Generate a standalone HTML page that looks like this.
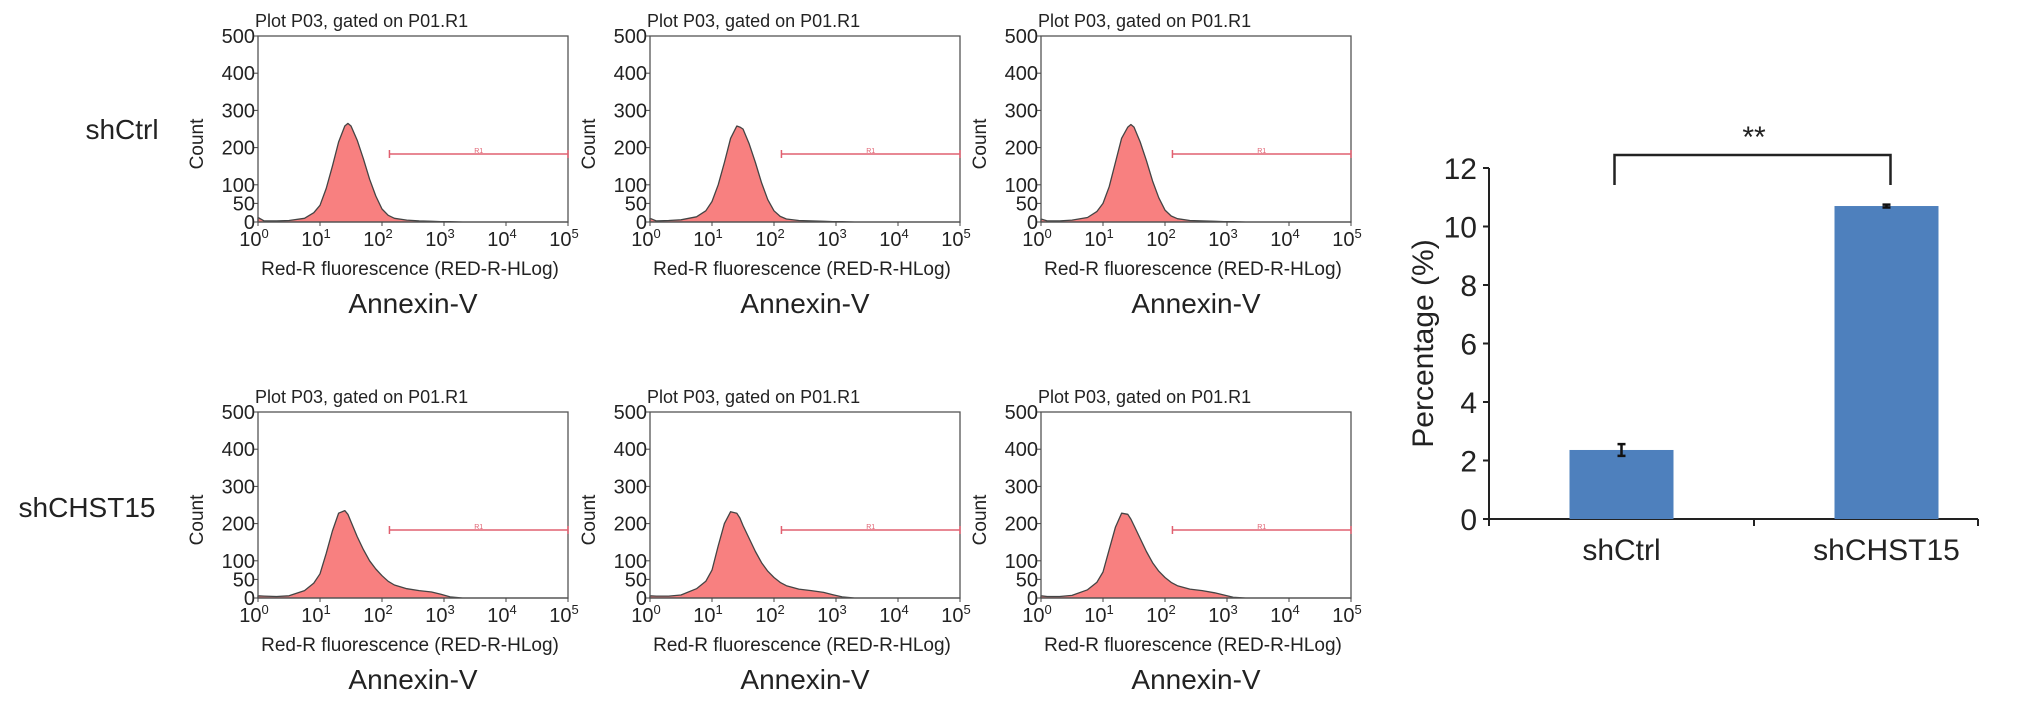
<!DOCTYPE html>
<html><head><meta charset="utf-8"><style>
body{margin:0;background:#fff;}
svg text{font-family:"Liberation Sans",Arial,sans-serif;fill:#222;}
</style></head>
<body>
<svg id="fig" width="2032" height="705" viewBox="0 0 2032 705" xmlns="http://www.w3.org/2000/svg">
<text x="122" y="139" font-size="28" text-anchor="middle">shCtrl</text>
<text x="87" y="517" font-size="28" text-anchor="middle">shCHST15</text>
</svg>
<script>
// histogram data: x positions in log10 decades, counts per panel
const histLogX = [0,0.1,0.3,0.5,0.75,0.9,1.0,1.1,1.2,1.3,1.4,1.45,1.5,1.6,1.7,1.8,1.9,2.0,2.1,2.2,2.4,2.6,2.8,2.95,3.1,3.3,4,5];
const histP1 = [12,3,3,4,10,25,45,90,150,215,258,265,258,220,170,115,70,35,18,10,5,3,2,1,1,0,0,0];
const histP2 = [10,3,4,6,14,30,55,100,160,225,258,255,250,210,160,105,60,30,15,8,4,3,2,1,1,0,0,0];
const histP3 = [8,3,3,5,12,28,50,95,160,225,255,262,255,215,165,110,65,32,16,9,4,3,2,1,1,0,0,0];
const histP4 = [6,5,4,6,20,40,65,120,180,228,235,225,205,165,130,100,78,60,45,35,25,20,16,10,3,0,0,0];
const histP5 = [6,5,5,8,25,45,75,140,200,232,228,215,195,160,125,95,72,55,42,33,24,20,15,9,3,0,0,0];
const histP6 = [6,4,4,7,22,42,70,130,190,228,225,212,195,160,125,95,72,55,42,33,24,20,14,8,2,0,0,0];
const yTickVals = [0,50,100,200,300,400,500];
const xDecades = [0,1,2,3,4,5];
const gateStart = 2.12; const gateEnd = 5;
// bar chart data
const barCats = ["shCtrl","shCHST15"];
const barVals = [2.36,10.7];
const barErr = [0.2,0.05];
const barTicks = [0,2,4,6,8,10,12];

const NS="http://www.w3.org/2000/svg";
const svg=document.getElementById('fig');
function el(t,a,p){const e=document.createElementNS(NS,t);for(const k in a)e.setAttribute(k,a[k]);(p||svg).appendChild(e);return e;}

const panels=[
 {x:258,y:36,d:histP1},{x:650,y:36,d:histP2},{x:1041,y:36,d:histP3},
 {x:258,y:412,d:histP4},{x:650,y:412,d:histP5},{x:1041,y:412,d:histP6}];
const PW=310, PH=186;
panels.forEach((p,i)=>{
  const g=el('g',{});
  
  
  const sx=v=>p.x+v/5*PW, sy=v=>p.y+PH-v/500*PH;
  let t=el('text',{x:p.x-3,y:p.y-9,'font-size':18},g);t.textContent='Plot P03, gated on P01.R1';
  
  let d='M'+sx(histLogX[0])+','+sy(0);
  histLogX.forEach((v,k)=>{d+=' L'+sx(v).toFixed(1)+','+sy(p.d[k]).toFixed(1);});
  d+=' L'+sx(5)+','+sy(0)+' Z';
  const f=el('path',{d:d,fill:'#f88080',stroke:'#444','stroke-width':1.3,'stroke-linejoin':'round'},g);
  
  const box=el('rect',{x:p.x,y:p.y,width:PW,height:PH,fill:'none',stroke:'#555','stroke-width':1.3},g);
  
  yTickVals.forEach(v=>{
    el('line',{x1:p.x-4,x2:p.x,y1:sy(v),y2:sy(v),stroke:'#444'},g);
    const tt=el('text',{x:p.x-3,y:sy(v)+7,'font-size':20,'text-anchor':'end'},g);tt.textContent=v;
    
  });
  const yt=el('text',{x:0,y:0,'font-size':19,'text-anchor':'middle',transform:`translate(${p.x-55},${p.y+PH/2+15}) rotate(-90)`},g);
  yt.textContent='Count';
  xDecades.forEach(v=>{
    el('line',{x1:sx(v),x2:sx(v),y1:p.y+PH,y2:p.y+PH+4,stroke:'#444'},g);
    const tt=el('text',{x:sx(v)-4,y:p.y+PH+24,'font-size':20,'text-anchor':'middle'},g);
    tt.innerHTML='10<tspan dy="-8" font-size="13">'+v+'</tspan>';
    
  });
  const xt=el('text',{x:p.x+PW/2-3,y:p.y+PH+53,'font-size':19,'text-anchor':'middle'},g);
  xt.textContent='Red-R fluorescence (RED-R-HLog)';
  const an=el('text',{x:p.x+PW/2,y:p.y+PH+91,'font-size':28,'text-anchor':'middle'},g);
  an.textContent='Annexin-V';
  const gy=p.y+118;
  const gl=el('line',{x1:sx(gateStart),x2:sx(gateEnd),y1:gy,y2:gy,stroke:'#e06070','stroke-width':1.6},g);
  
  el('line',{x1:sx(gateStart),x2:sx(gateStart),y1:gy-4,y2:gy+4,stroke:'#e06070','stroke-width':1.5},g);
  el('line',{x1:sx(gateEnd),x2:sx(gateEnd),y1:gy-4,y2:gy+4,stroke:'#e06070','stroke-width':1.5},g);
  const r1=el('text',{x:(sx(gateStart)+sx(gateEnd))/2,y:gy-1,'font-size':7,'text-anchor':'middle',style:'fill:#e06070'},g);
  r1.textContent='R1';
});

(function(){
  const g=el('g',{});
  
  const x0=1489,bandEnd=2019,axisEnd=1978,y0=519,yTop=168;
  const sy=v=>y0-v/12*(y0-yTop);
  const bandW=(bandEnd-x0)/barCats.length;
  el('line',{x1:x0,x2:x0,y1:yTop,y2:y0,stroke:'#222','stroke-width':2},g);
  el('line',{x1:x0,x2:axisEnd,y1:y0,y2:y0,stroke:'#222','stroke-width':2},g);
  barTicks.forEach(v=>{
    el('line',{x1:x0-6,x2:x0,y1:sy(v),y2:sy(v),stroke:'#222','stroke-width':2},g);
    const t=el('text',{x:x0-12,y:sy(v)+11,'font-size':30,'text-anchor':'end'},g);t.textContent=v;
    
  });
  [x0,x0+bandW,axisEnd].forEach(xx=>{el('line',{x1:xx,x2:xx,y1:y0,y2:y0+7,stroke:'#222','stroke-width':2},g);});
  const yl=el('text',{x:0,y:0,'font-size':30,'text-anchor':'middle',transform:`translate(1433,${(y0+yTop)/2}) rotate(-90)`},g);
  yl.textContent='Percentage (%)';
  const cx=[];
  barCats.forEach((c,k)=>{
    const c0=x0+bandW*(k+0.5); cx.push(c0);
    const b=el('rect',{x:c0-52,y:sy(barVals[k]),width:104,height:y0-sy(barVals[k]),fill:'#4e80bd'},g);
    
    const e=el('path',{d:`M${c0-4},${sy(barVals[k]+barErr[k])} h8 M${c0},${sy(barVals[k]+barErr[k])} V${sy(barVals[k]-barErr[k])} M${c0-4},${sy(barVals[k]-barErr[k])} h8`,stroke:'#111','stroke-width':2.5,fill:'none'},g);
    
    const t=el('text',{x:c0,y:y0+41,'font-size':30,'text-anchor':'middle'},g);t.textContent=c;
    
  });
  const br=el('path',{d:`M${cx[0]-7},185 V155 H${cx[1]+4} V185`,stroke:'#222','stroke-width':2.5,fill:'none'},g);
  
  const st=el('text',{x:(cx[0]+cx[1])/2,y:147,'font-size':30,'text-anchor':'middle'},g);st.textContent='**';
  
})();
</script>
</body></html>
